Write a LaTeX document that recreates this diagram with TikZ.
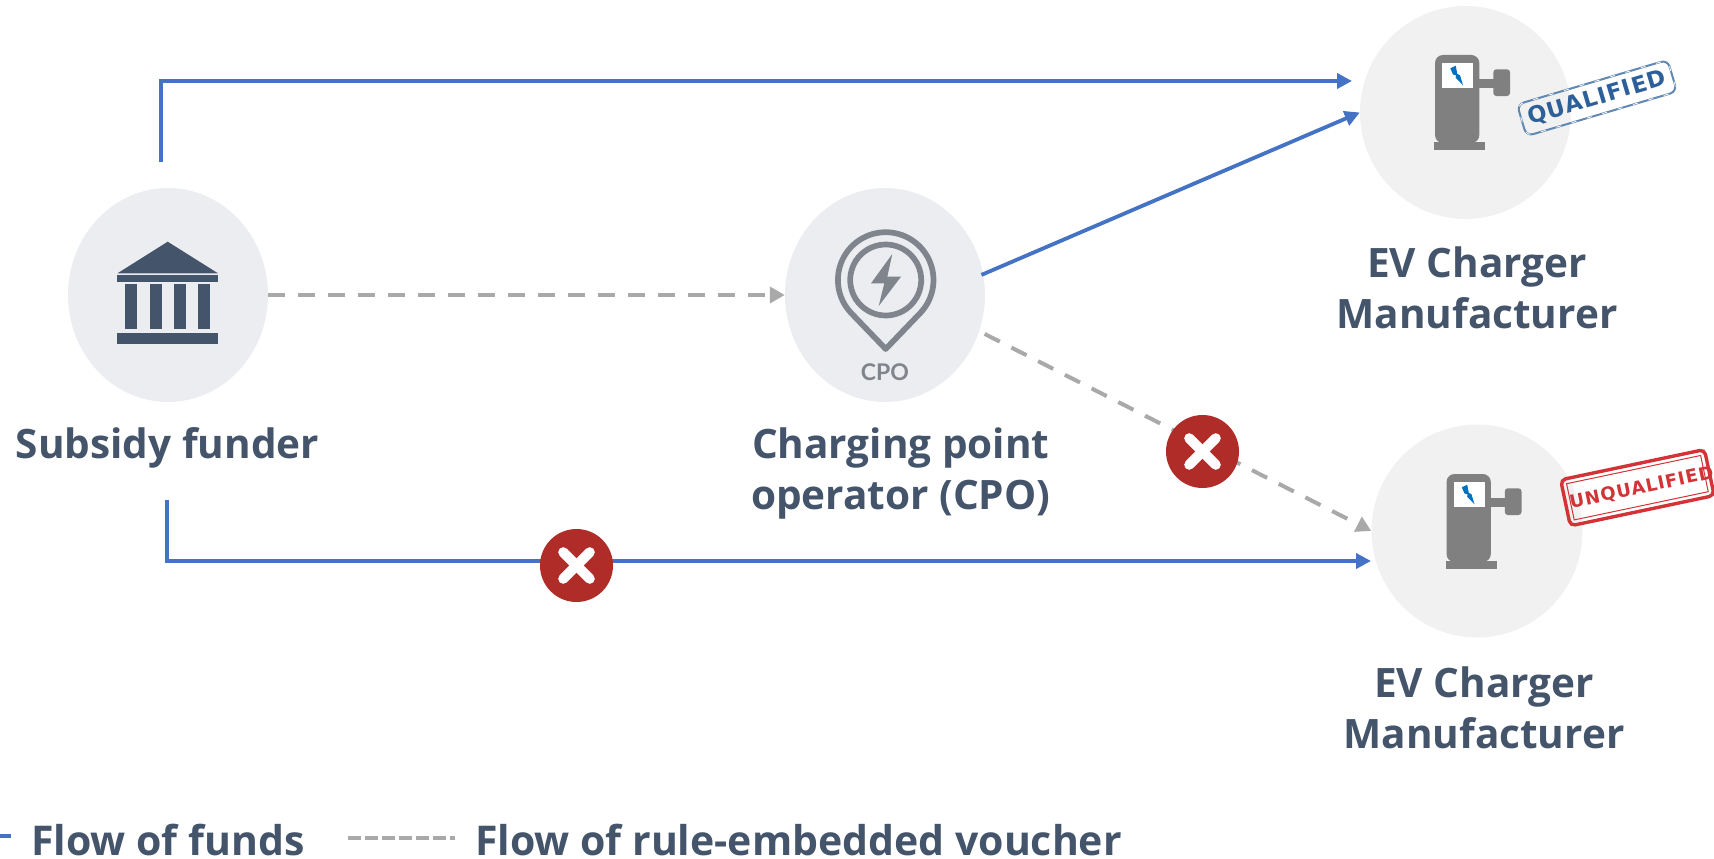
\documentclass[tikz,border=0pt]{standalone}
\usepackage{fontspec}
\usetikzlibrary{arrows.meta,shapes.geometric}
\setmainfont{Open Sans}
\newfontfamily\stampfont[LetterSpace=5]{DejaVu Sans}
\newfontfamily\cpofont{Lato}
\definecolor{textc}{HTML}{44546A}
\definecolor{bluec}{HTML}{4472C4}
\definecolor{grayc}{HTML}{A9A9A9}
\definecolor{discA}{HTML}{EBEDF0}
\definecolor{discB}{HTML}{F1F1F1}
\definecolor{redc}{HTML}{B02C28}
\definecolor{pinc}{HTML}{80848C}
\definecolor{chc}{HTML}{808080}
\definecolor{boltc}{HTML}{0070C0}
\definecolor{stampb}{HTML}{2D6099}
\definecolor{stampr}{HTML}{D33236}
\tikzset{
  disc/.style={ellipse,inner sep=0pt,minimum width=#1},
  funder/.style={disc=200pt,minimum height=214pt,fill=discA},
  charger/.style={disc=211pt,minimum height=213pt,fill=discB},
  lab/.style={font=\bfseries\fontsize{40.5}{51}\selectfont,text=textc,inner sep=0pt,align=center},
  leg/.style={font=\bfseries\fontsize{41}{51}\selectfont,text=textc,inner sep=0pt,anchor=base west},
  funds/.style={draw=bluec,line width=3.8pt,-{Triangle[length=15pt,width=15pt]}},
  voucher/.style={draw=grayc,line width=4pt,dash pattern=on 17pt off 13pt,-{Triangle[length=15pt,width=16pt]}},
  nogo/.style={circle,fill=redc,minimum size=73pt,inner sep=0pt},
  crossl/.style={draw=white,line width=10pt,line cap=round},
  chargericon/.pic={
    \fill[chc,rounded corners=8pt] (1435,55) rectangle (1479.3,143);
    \fill[chc] (1434,141.7) rectangle (1485,150);
    \fill[chc] (1479,79) rectangle (1494,88);
    \fill[chc,rounded corners=3pt] (1493.3,69.3) rectangle (1510,96);
    \fill[white] (1442,63) rectangle (1473,88);
    \fill[boltc] (1450.3,68.3) -- (1455.7,65.7) -- (1457.3,74) -- (1460,75.3) -- (1463,85.3) -- (1455.5,77.5) -- (1456.3,75.6) -- (1453,74.5) -- cycle;
  }
}
\begin{document}
\begin{tikzpicture}[x=1pt,y=-1pt]
\useasboundingbox (0,0) rectangle (1714,859);
% discs
\node[funder] (fund) at (168,295) {};
\node[funder] (cpo) at (885,295) {};
\node[charger] (chA) at (1465.5,112.5) {};
\node[charger] (chB) at (1477,531) {};
% free ends
\coordinate (upS) at (161,162);
\coordinate (upE) at (1352,81);
\coordinate (lowS) at (167,500);
\coordinate (lowE) at (1371,561);
\coordinate (legA) at (0,836);
\coordinate (legB) at (11,836);
\coordinate (legC) at (348,838);
\coordinate (legD) at (455,838);
% connectors
\draw[funds] (upS) |- (upE);
\draw[funds] (lowS) |- (lowE);
\draw[funds,shorten <=-2pt] (cpo.12) -- (chA.west);
\draw[voucher] (fund.east) -- (cpo.west);
\draw[voucher,shorten <=6pt] (cpo.-21) -- (chB.west);
\draw[draw=bluec,line width=3.8pt] (legA) -- (legB);
\draw[draw=grayc,line width=4pt,dash pattern=on 13pt off 4pt] (legC) -- (legD);
% bank icon
\fill[textc] (167.7,241.7) -- (218,273.3) -- (117.5,273.3) -- cycle;
\fill[textc] (117,275) rectangle (218,282);
\foreach \cx in {125,150,174,198}{\fill[textc] (\cx,284) rectangle (\cx+12,329);}
\fill[textc] (117,333) rectangle (218,344);
% CPO icon
\draw[pinc,line width=5.7pt,line join=round] plot[domain=-43.6:223.6,samples=60] ({885.7+47.8*cos(\x)},{280-47.8*sin(\x)}) -- (885.7,349) -- cycle;
\draw[pinc,line width=5.7pt] plot[domain=0:360,samples=60] ({885.7+35.5*cos(\x)},{280-35.5*sin(\x)}) -- cycle;
\fill[pinc] (892.3,254) -- (871,283.3) -- (884.3,283.3) -- (878.7,306) -- (901,276.7) -- (887.3,276.7) -- cycle;
\node[text=pinc,font=\cpofont\bfseries\fontsize{23}{23}\selectfont,inner sep=0pt,anchor=base] (cpot) at (885,380) {CPO};
% charger icons
\pic at (0,0) {chargericon};
\pic at (11.5,419) {chargericon};
% stamps
\node[rotate=16.5,draw=stampb!75!white,line width=2pt,rounded corners=7pt,minimum width=157pt,minimum height=33pt,inner sep=0pt,text=stampb,font=\stampfont\bfseries\fontsize{22.5}{22.5}\selectfont] (qual) at (1597,98) {QUALIFIED};
\node[rotate=16.5,draw=white,line width=0.8pt,dash pattern=on 5pt off 11pt,rounded corners=7pt,minimum width=157pt,minimum height=33pt,inner sep=0pt] (qualr) at (1597,98) {};
\node[rotate=11.9,draw=stampr,line width=3.4pt,rounded corners=5pt,minimum width=147pt,minimum height=47pt,inner sep=0pt] (unq) at (1637.4,487.7) {};
\node[rotate=11.9,draw=stampr,line width=1pt,minimum width=137pt,minimum height=37pt,inner sep=0pt] (unqi) at (1637.4,487.7) {};
\node[rotate=11.9,text=stampr,inner sep=0pt,font=\stampfont\bfseries\fontsize{18}{18}\selectfont] (unqt) at (1641.7,488) {UNQUALIFIED};
% labels
\node[lab,anchor=base] (tf) at (167.5,458) {Subsidy funder};
\node[lab,anchor=base] (tc) at (900.7,509) {Charging point\\operator (CPO)};
\node[lab,anchor=base] (ta) at (1477,328) {EV Charger\\Manufacturer};
\node[lab,anchor=base] (tb) at (1484,748) {EV Charger\\Manufacturer};
\node[leg] (la) at (31,855) {Flow of funds};
\node[leg] (lb) at (475,855) {Flow of rule-embedded voucher};
% crosses
\node[nogo] (xa) at (1202.5,451.5) {};
\node[nogo] (xb) at (576.5,565.5) {};
\foreach \n in {xa,xb}{
  \draw[crossl] ([shift={(-13.3,-13.3)}]\n.center) -- ([shift={(13.3,13.3)}]\n.center);
  \draw[crossl] ([shift={(-13.3,13.3)}]\n.center) -- ([shift={(13.3,-13.3)}]\n.center);
}
\end{tikzpicture}
\end{document}
